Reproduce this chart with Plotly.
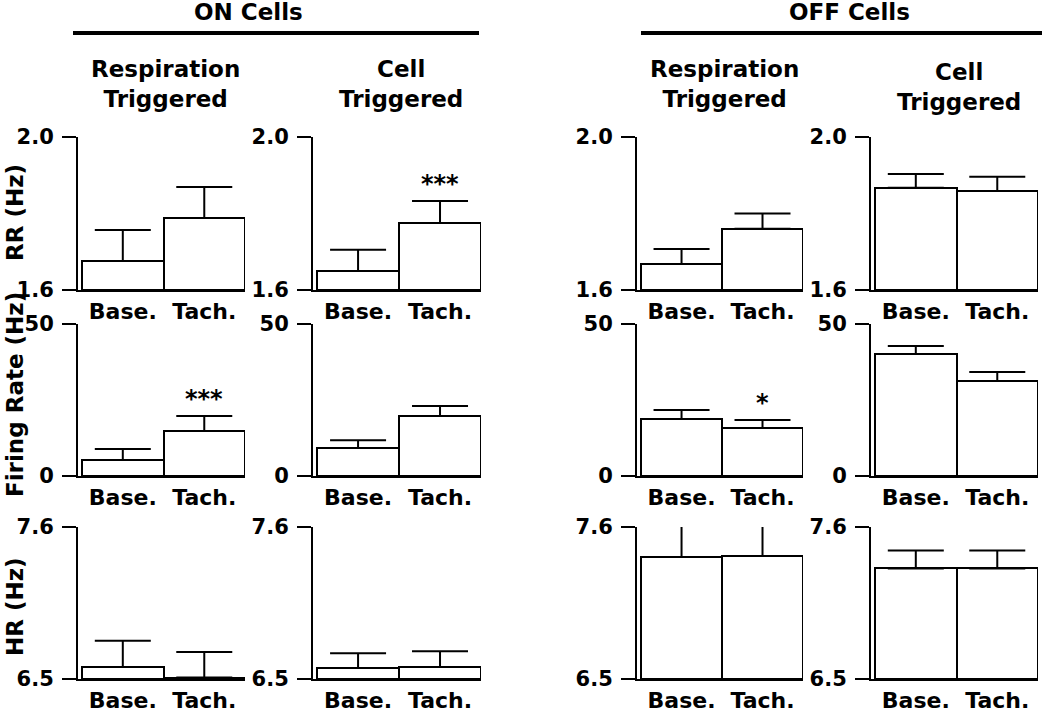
import plotly.graph_objects as go

W, H = 1050, 713

# ---------------- data ----------------
conditions = ["Base.", "Tach."]
group_titles = ["ON Cells", "OFF Cells"]
col_titles = ["Respiration<br>Triggered", "Cell<br>Triggered",
              "Respiration<br>Triggered", "Cell<br>Triggered"]
row_titles = ["RR (Hz)", "Firing Rate (Hz)", "HR (Hz)"]
y_ranges = [[1.6, 2.0], [0, 50], [6.5, 7.6]]
y_ticktext = [["1.6", "2.0"], ["0", "50"], ["6.5", "7.6"]]

# columns: ON resp, ON cell, OFF resp, OFF cell ; values: [Base., Tach.]
rr_mean = [[1.676, 1.788], [1.650, 1.775], [1.668, 1.760], [1.867, 1.859]]
rr_sem = [[0.081, 0.081], [0.055, 0.058], [0.039, 0.040], [0.036, 0.037]]
fr_mean = [[5.3, 14.8], [9.2, 19.7], [18.75, 15.8], [40.1, 31.25]]
fr_sem = [[3.6, 4.9], [2.6, 3.3], [2.95, 2.6], [2.7, 2.95]]
hr_mean = [[6.586, 6.51], [6.579, 6.586], [7.383, 7.39], [7.30, 7.30]]
hr_sem = [[0.19, 0.185], [0.108, 0.114], [0.23, 0.24], [0.13, 0.13]]

rr_sig = [["", ""], ["", "***"], ["", ""], ["", ""]]
fr_sig = [["", "***"], ["", ""], ["", "*"], ["", ""]]
hr_sig = [["", ""], ["", ""], ["", ""], ["", ""]]

means = [rr_mean, fr_mean, hr_mean]
sems = [rr_sem, fr_sem, hr_sem]
sigs = [rr_sig, fr_sig, hr_sig]

# ---------------- layout geometry (pixels) ----------------
col_px = [(78, 245), (313, 481), (637, 803), (871, 1038)]
row_px = [(137, 290), (324, 476), (527, 679)]
FONT = "DejaVu Sans"


def fx(px):
    return px / W


def fy(py):
    return 1 - py / H


fig = go.Figure()
annotations = []
shapes = []

for r in range(3):
    for c in range(4):
        idx = r * 4 + c + 1
        xa = "x" if idx == 1 else f"x{idx}"
        ya = "y" if idx == 1 else f"y{idx}"
        x0, x1 = col_px[c]
        top, bot = row_px[r]
        fig.add_trace(go.Bar(
            x=[0, 1], y=[v - y_ranges[r][0] for v in means[r][c]],
            base=y_ranges[r][0], width=1,
            marker=dict(color="white", line=dict(color="black", width=2)),
            error_y=dict(type="data", symmetric=False, array=sems[r][c],
                         arrayminus=[0, 0], color="black", thickness=2, width=28),
            xaxis=xa, yaxis=ya, showlegend=False, cliponaxis=False,
            hoverinfo="skip",
        ))
        axn = "" if idx == 1 else str(idx)
        fig.layout["xaxis" + axn] = dict(
            domain=[fx(x0), fx(x1)], anchor=ya, range=[-0.55, 1.5],
            showline=True, linecolor="black", linewidth=2, showgrid=False,
            zeroline=False, tickvals=[0, 1], ticktext=conditions, ticks="",
            ticklabelstandoff=1,
            tickfont=dict(family=FONT, size=22, color="black", weight="bold"),
            fixedrange=True,
        )
        fig.layout["yaxis" + axn] = dict(
            domain=[fy(bot), fy(top)], anchor=xa, range=y_ranges[r],
            showline=True, linecolor="black", linewidth=2, showgrid=False,
            zeroline=False, tickvals=y_ranges[r], ticktext=y_ticktext[r],
            ticks="outside", ticklen=14, tickwidth=2, tickcolor="black",
            ticklabelstandoff=4,
            tickfont=dict(family=FONT, size=21, color="black", weight="bold"),
            fixedrange=True,
        )
        for k in range(2):
            if sigs[r][c][k]:
                annotations.append(dict(
                    x=k, y=means[r][c][k] + sems[r][c][k], xref=xa, yref=ya,
                    text=sigs[r][c][k], showarrow=False, yanchor="bottom",
                    yshift=1,
                    font=dict(family=FONT, size=24, color="black", weight="bold"),
                ))

# column titles
col_title_y = [84, 84, 84, 87]
for c in range(4):
    cx = (col_px[c][0] + col_px[c][1]) / 2 + 4
    annotations.append(dict(
        x=fx(cx), y=fy(col_title_y[c]), xref="paper", yref="paper",
        text=col_titles[c], showarrow=False, xanchor="center", yanchor="middle",
        font=dict(family=FONT, size=23, color="black", weight="bold"),
    ))

# group titles and lines
group_px = [(73, 479, 248), (641, 1042, 849)]
for g in range(2):
    gx0, gx1, gcx = group_px[g]
    annotations.append(dict(
        x=fx(gcx), y=fy(12), xref="paper", yref="paper",
        text=group_titles[g], showarrow=False, xanchor="center", yanchor="middle",
        font=dict(family=FONT, size=23, color="black", weight="bold"),
    ))
    shapes.append(dict(type="line", xref="paper", yref="paper",
                       x0=fx(gx0), x1=fx(gx1), y0=fy(33), y1=fy(33),
                       line=dict(color="black", width=4)))

# row titles
row_title_y = [213, 395, 607]
for r in range(3):
    annotations.append(dict(
        x=fx(15), y=fy(row_title_y[r]), xref="paper", yref="paper",
        text=row_titles[r], showarrow=False, textangle=-90,
        xanchor="center", yanchor="middle",
        font=dict(family=FONT, size=23, color="black", weight="bold"),
    ))

fig.update_layout(
    width=W, height=H, margin=dict(l=0, r=0, t=0, b=0, autoexpand=False),
    paper_bgcolor="white", plot_bgcolor="white",
    annotations=annotations, shapes=shapes, bargap=0,
)

fig.write_html("out.html", config={"displayModeBar": False},
               post_script="document.body.style.margin='0';"
                           "document.body.style.overflow='hidden';")
